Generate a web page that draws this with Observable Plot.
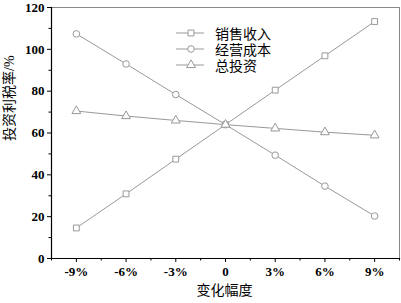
<!DOCTYPE html>
<html><head><meta charset="utf-8">
<script src="https://cdn.jsdelivr.net/npm/d3@7"></script>
<script src="https://cdn.jsdelivr.net/npm/@observablehq/plot@0.6"></script>
<style>
body{margin:0;background:#fff}
#wrap{position:relative;width:401px;height:303px}
#legend{position:absolute;left:176px;top:25px;font-family:"Liberation Serif","Noto Sans CJK SC",serif;font-size:14px;color:#000}
#legend .row{display:flex;align-items:center;height:16px}
#legend svg{display:block;margin-right:11px}
</style>
</head><body><div id="wrap"></div>
<script>
const changes = [-9, -6, -3, 0, 3, 6, 9];
const sales = [14.6, 30.9, 47.5, 64.0, 80.5, 96.9, 113.3];
const cost = [107.4, 93.0, 78.4, 64.0, 49.4, 34.6, 20.3];
const invest = [70.5, 68.1, 66.0, 64.0, 62.2, 60.4, 58.9];
const seriesNames = ["销售收入", "经营成本", "总投资"];
const seriesSymbols = ["square", "circle", "triangle"];
const yMajor = [0, 20, 40, 60, 80, 100, 120];
const yMinor = [10, 30, 50, 70, 90, 110];
const xMinor = [-10.5, -7.5, -4.5, -1.5, 1.5, 4.5, 7.5, 10.5];
const xLabel = "变化幅度";
const yLabel = "投资利税率/%";

const seriesValues = [sales, cost, invest];
const data = [];
seriesNames.forEach((s, i) => changes.forEach((c, j) => data.push({series: s, x: c, y: seriesValues[i][j]})));

const gray = "#999";
const font = '"Liberation Serif","Noto Sans CJK SC",serif';

const chart = Plot.plot({
  width: 401, height: 303,
  marginLeft: 51, marginRight: 2, marginTop: 7, marginBottom: 45,
  style: {fontFamily: font, background: "#fff", color: "#000"},
  x: {domain: [-10.5, 10.5]},
  y: {domain: [0, 120]},
  symbol: {domain: seriesNames, range: seriesSymbols},
  marks: [
    Plot.frame({stroke: "#888", strokeWidth: 1}),
    Plot.line(data, {x: "x", y: "y", z: "series", stroke: gray, strokeWidth: 1}),
    Plot.dot(data, {x: "x", y: "y", symbol: "series", fill: "white", stroke: gray, strokeWidth: 1, r: 3.3}),
    Plot.frame({anchor: "left", stroke: "#000", strokeWidth: 1.2}),
    Plot.frame({anchor: "bottom", stroke: "#000", strokeWidth: 1.2}),
    Plot.axisY({ticks: yMajor, tickSize: 4, tickPadding: 3, fontSize: 13, fontWeight: "bold", label: null, stroke: "#000"}),
    Plot.axisY({ticks: yMinor, tickSize: 2.5, tickFormat: () => "", label: null, stroke: "#000"}),
    Plot.axisX({ticks: changes, tickSize: 4, tickPadding: 4, fontSize: 13, fontWeight: "bold", label: null, stroke: "#000",
      tickFormat: d => d === 0 ? "0" : d + "%"}),
    Plot.axisX({ticks: xMinor, tickSize: 2.5, tickFormat: () => "", label: null, stroke: "#000"}),
    Plot.text([xLabel], {frameAnchor: "bottom", dy: 36, dx: -1, fontSize: 14, fill: "#000"}),
    Plot.text([yLabel], {frameAnchor: "left", rotate: -90, dx: -42, dy: 8, fontSize: 14, fill: "#000"})
  ]
});
const wrap = document.getElementById("wrap");
wrap.appendChild(chart);

const legend = document.createElement("div");
legend.id = "legend";
seriesNames.forEach((s, i) => {
  const row = document.createElement("div");
  row.className = "row";
  const svg = d3.create("svg").attr("width", 28).attr("height", 14);
  svg.append("line").attr("x1", 0).attr("x2", 28).attr("y1", 7).attr("y2", 7).attr("stroke", gray);
  const sym = {square: d3.symbolSquare, circle: d3.symbolCircle, triangle: d3.symbolTriangle}[seriesSymbols[i]];
  svg.append("path").attr("transform", "translate(15,7)").attr("d", d3.symbol(sym, Math.PI * 3.3 * 3.3)())
    .attr("fill", "white").attr("stroke", gray);
  row.appendChild(svg.node());
  const t = document.createElement("span");
  t.textContent = s;
  row.appendChild(t);
  legend.appendChild(row);
});
wrap.appendChild(legend);
</script>
</body></html>
